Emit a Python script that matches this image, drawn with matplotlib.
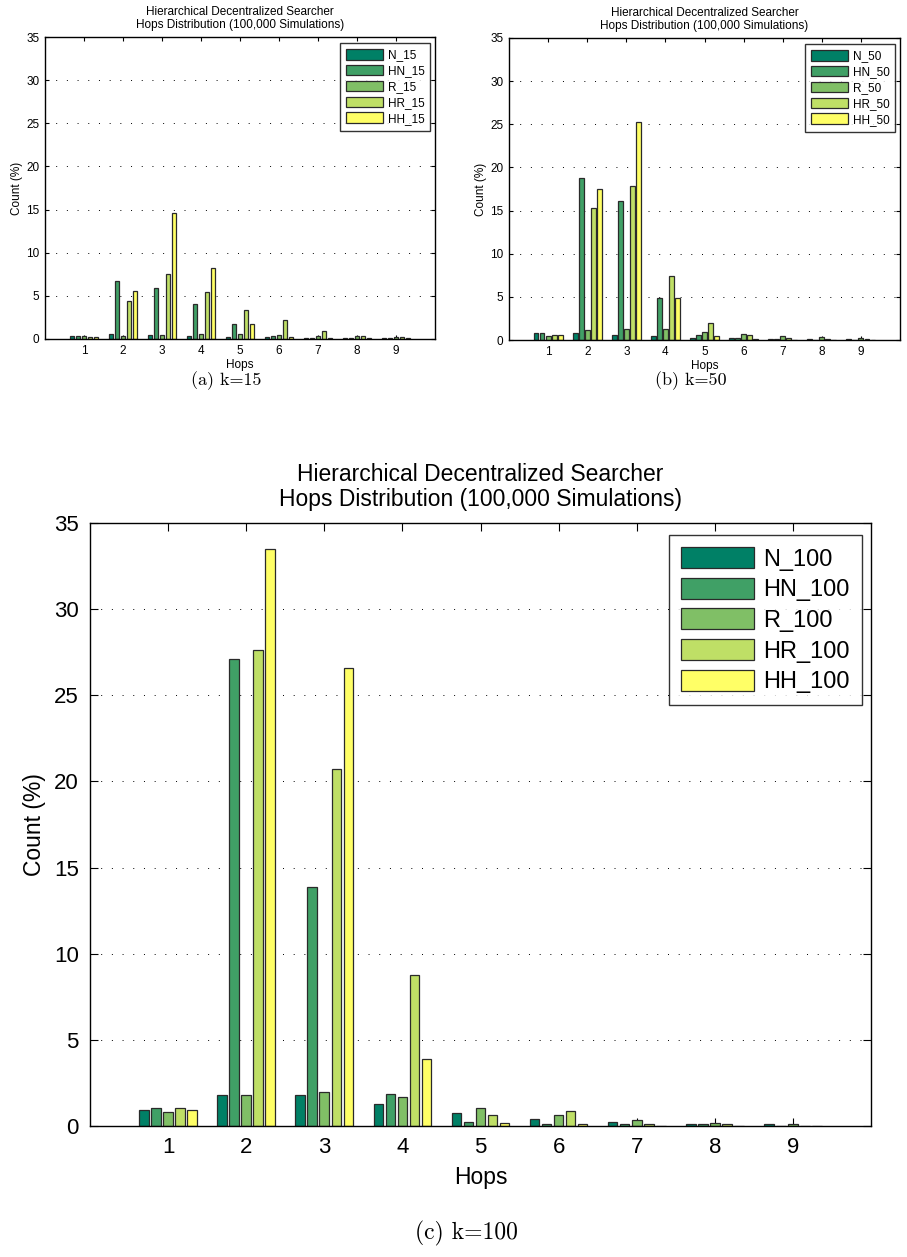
import numpy as np
import matplotlib
matplotlib.use("Agg")
import matplotlib.pyplot as plt

plt.rcParams['font.family'] = ['Liberation Sans', 'DejaVu Sans']

# hops 1..9, one list per searcher, values in % of 100,000 simulations
hops = [1, 2, 3, 4, 5, 6, 7, 8, 9]
series = ["N", "HN", "R", "HR", "HH"]

k15_N = [0.39, 0.58, 0.47, 0.39, 0.27, 0.19, 0.10, 0.10, 0.07]
k15_HN = [0.39, 6.74, 5.93, 4.03, 1.71, 0.39, 0.10, 0.10, 0.07]
k15_R = [0.30, 0.39, 0.47, 0.58, 0.58, 0.47, 0.39, 0.31, 0.27]
k15_HR = [0.27, 4.46, 7.52, 5.50, 3.41, 2.17, 0.89, 0.39, 0.27]
k15_HH = [0.27, 5.62, 14.60, 8.22, 1.71, 0.27, 0.10, 0.10, 0.08]

k50_N = [0.77, 0.77, 0.54, 0.46, 0.27, 0.23, 0.15, 0.10, 0.10]
k50_HN = [0.77, 18.80, 16.10, 4.84, 0.54, 0.23, 0.15, 0.00, 0.00]
k50_R = [0.50, 1.16, 1.24, 1.24, 0.93, 0.74, 0.43, 0.30, 0.27]
k50_HR = [0.62, 15.27, 17.90, 7.44, 2.00, 0.54, 0.27, 0.15, 0.15]
k50_HH = [0.62, 17.55, 25.30, 4.92, 0.46, 0.15, 0.00, 0.00, 0.00]

k100_N = [0.94, 1.78, 1.78, 1.26, 0.75, 0.43, 0.23, 0.13, 0.12]
k100_HN = [1.04, 27.10, 13.88, 1.88, 0.23, 0.14, 0.13, 0.13, 0.00]
k100_R = [0.84, 1.78, 1.97, 1.66, 1.06, 0.66, 0.33, 0.20, 0.12]
k100_HR = [1.04, 27.65, 20.75, 8.75, 0.64, 0.85, 0.14, 0.13, 0.00]
k100_HH = [0.94, 33.50, 26.60, 3.86, 0.15, 0.14, 0.00, 0.00, 0.00]

# matlab "summer" colormap, 5 levels
colors = ["#008066", "#40a066", "#80bf66", "#bfdf66", "#ffff66"]

W, H = 907, 1257
fig = plt.figure(figsize=(W / 100, H / 100), dpi=100)


def panel(rect, data, k, fs, tfs, lfs, tlen, tpad, lpad, caption, cap_y, cap_fs):
    ax = fig.add_axes([rect[0] / W, 1 - rect[3] / H, (rect[2] - rect[0]) / W, (rect[3] - rect[1]) / H])
    n = len(data)
    gw = min(0.8, n / (n + 1.5))
    step = gw / n
    x = np.array(hops, dtype=float)
    for i, vals in enumerate(data):
        ax.bar(x + (i - (n - 1) / 2) * step, vals, width=0.8 * step, color=colors[i],
               edgecolor="#2a2a2a", linewidth=0.9, label="%s_%d" % (series[i], k), zorder=2)
    ax.set_xlim(0, 10)
    ax.set_ylim(0, 35)
    ax.set_xticks(hops)
    ax.set_yticks(range(0, 36, 5))
    ax.tick_params(direction="in", top=True, right=True, labelsize=fs, length=tlen, width=0.8, pad=tpad)
    ax.yaxis.grid(True, linestyle=(0, (1, 10)), color="black", linewidth=0.7)
    ax.set_axisbelow(True)
    for s in ax.spines.values():
        s.set_linewidth(1.0)
    ax.set_title("Hierarchical Decentralized Searcher\nHops Distribution (100,000 Simulations)",
                 fontsize=tfs, pad=tfs * 0.75, linespacing=1.1)
    ax.set_xlabel("Hops", fontsize=tfs, labelpad=lpad)
    ax.set_ylabel("Count (%)", fontsize=tfs, labelpad=lpad)
    leg = ax.legend(loc="upper right", bbox_to_anchor=(0.988, 0.98), fontsize=lfs, frameon=True,
                    fancybox=False, edgecolor="black", borderaxespad=0, handlelength=3.1,
                    handleheight=1.0, labelspacing=0.3, borderpad=0.5, handletextpad=0.4)
    leg.get_frame().set_linewidth(1.0)
    for p in leg.get_patches():
        p.set_edgecolor("#2a2a2a")
    cx = (rect[0] + rect[2]) / 2 / W
    fig.text(cx - 0.015, 1 - cap_y / H, caption, family="cmr10", fontsize=cap_fs, ha="center", va="center")
    return ax


panel((45, 37, 435, 339), [k15_N, k15_HN, k15_R, k15_HR, k15_HH], 15, 8.5, 8.5, 8.5, 3, 4, 2,
      "(a) k=15", 381, 13)
panel((509, 38, 900, 340), [k50_N, k50_HN, k50_R, k50_HR, k50_HH], 50, 8.5, 8.5, 8.5, 3, 4, 2,
      "(b) k=50", 381, 13)
panel((90, 523, 871, 1126), [k100_N, k100_HN, k100_R, k100_HR, k100_HH], 100, 16, 16.5, 17, 6, 8, 6,
      "(c) k=100", 1233, 17)

fig.savefig("out.png", dpi=100)
